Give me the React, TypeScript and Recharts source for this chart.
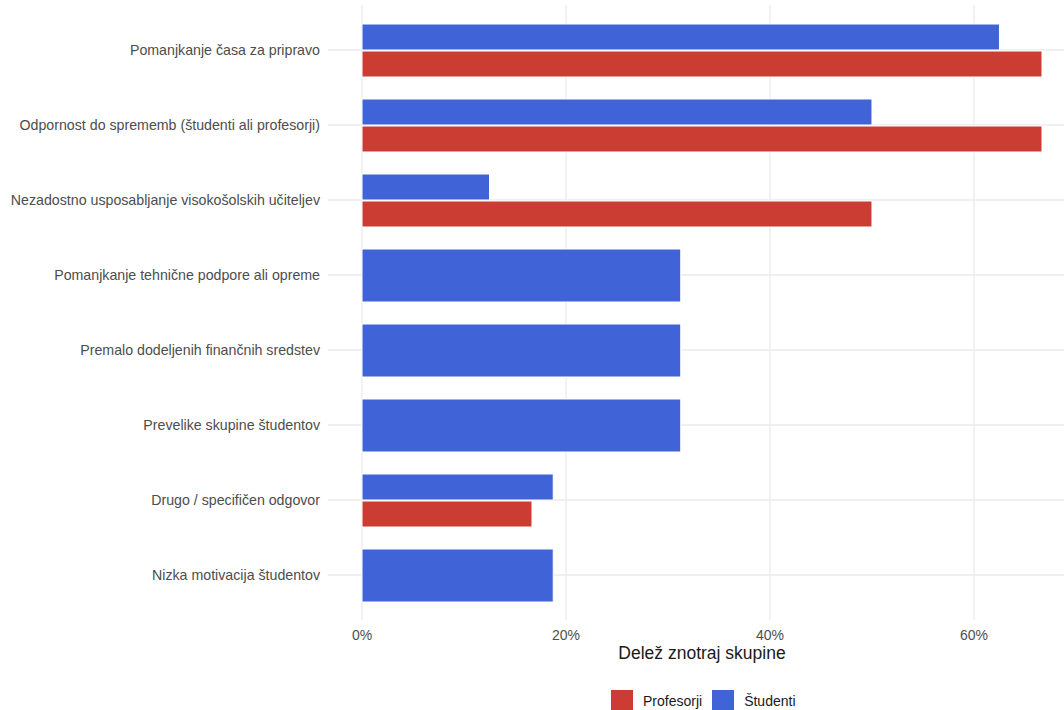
import React from 'react';
import { BarChart, Bar, XAxis, YAxis, CartesianGrid, Legend } from 'recharts';

const categories = [
  'Pomanjkanje časa za pripravo',
  'Odpornost do sprememb (študenti ali profesorji)',
  'Nezadostno usposabljanje visokošolskih učiteljev',
  'Pomanjkanje tehnične podpore ali opreme',
  'Premalo dodeljenih finančnih sredstev',
  'Prevelike skupine študentov',
  'Drugo / specifičen odgovor',
  'Nizka motivacija študentov',
];

// percent within group; null = group gave no answer in this category
const studenti = [62.5, 50, 12.5, 31.25, 31.25, 31.25, 18.75, 18.75];
const profesorji: (number | null)[] = [66.67, 66.67, 50, null, null, null, 16.67, null];

const xTicks = [0, 20, 40, 60];
const seriesNames = { profesorji: 'Profesorji', studenti: 'Študenti' };
const xTitle = 'Delež znotraj skupine';

const RED = '#CB3C33';
const BLUE = '#4064D7';
const GRID = '#EBEBEB';
const BAR_GAP = 1;

const data = categories.map((name, i) => ({
  name,
  studenti: studenti[i],
  profesorji: profesorji[i],
}));

const maxVal = Math.max(...studenti, ...profesorji.map((v) => v ?? 0));
const xDomain = [-maxVal * 0.05, maxVal * 1.05];

// when only students answered, the bar takes the whole dodge width (like ggplot)
const StudentBar = (props: any) => {
  const { x, y, width, height, payload } = props;
  const h = payload.profesorji == null ? height * 2 + BAR_GAP : height;
  return <rect x={x} y={y} width={width} height={h} fill={BLUE} stroke="#fff" strokeWidth={1} />;
};

const LegendBox = () => (
  <div style={{ display: 'flex', alignItems: 'center', fontSize: 14, color: '#1a1a1a' }}>
    <div style={{ width: 22, height: 22, background: RED, marginRight: 10 }} />
    <span style={{ marginRight: 10 }}>{seriesNames.profesorji}</span>
    <div style={{ width: 22, height: 22, background: BLUE, marginRight: 10 }} />
    <span>{seriesNames.studenti}</span>
  </div>
);

export default function App() {
  return (
    <div
      style={{
        position: 'fixed',
        left: 0,
        top: 0,
        width: 1064,
        height: 710,
        overflow: 'hidden',
        background: '#fff',
        fontFamily: '"Liberation Sans", Arial, sans-serif',
      }}
    >
      <BarChart
        width={1080}
        height={720}
        data={data}
        layout="vertical"
        margin={{ top: 5, right: 4, left: 0, bottom: 55 }}
        barCategoryGap={11.5}
        barGap={BAR_GAP}
      >
        {/* syncWithTicks: lines only at ticks, no frame round the panel */}
        <CartesianGrid stroke={GRID} strokeWidth={1.3} syncWithTicks />
        <XAxis
          type="number"
          domain={xDomain}
          ticks={xTicks}
          allowDataOverflow
          tickFormatter={(v) => `${v}%`}
          axisLine={false}
          tickLine={false}
          tickSize={0}
          tickMargin={10}
          height={45}
          tick={{ fill: '#4D4D4D', fontSize: 14 }}
          label={{ value: xTitle, position: 'insideBottom', offset: 6, fill: '#1a1a1a', fontSize: 17.5 }}
        />
        <YAxis
          type="category"
          dataKey="name"
          width={328}
          interval={0}
          axisLine={false}
          tickLine={false}
          tickSize={0}
          tickMargin={8}
          padding={{ top: 7.5, bottom: 7.5 }}
          tick={{ fill: '#4D4D4D', fontSize: 14.2 }}
        />
        <Legend
          layout="horizontal"
          verticalAlign="middle"
          content={<LegendBox />}
          wrapperStyle={{ top: 690, left: 611, width: 'auto', height: 22 }}
        />
        <Bar dataKey="studenti" name={seriesNames.studenti} fill={BLUE} shape={StudentBar} isAnimationActive={false} />
        <Bar
          dataKey="profesorji"
          name={seriesNames.profesorji}
          fill={RED}
          stroke="#fff"
          strokeWidth={1}
          isAnimationActive={false}
        />
      </BarChart>
    </div>
  );
}
